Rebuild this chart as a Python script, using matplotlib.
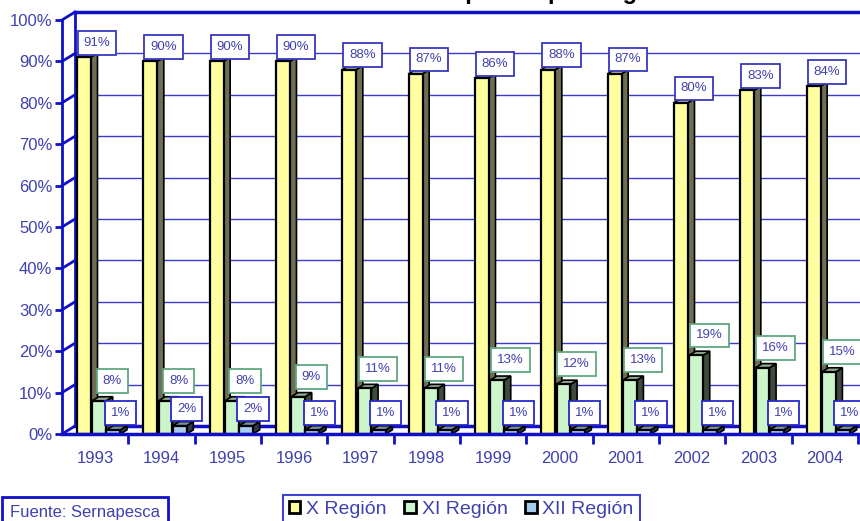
import matplotlib
matplotlib.use("Agg")
import matplotlib.pyplot as plt
from matplotlib.patches import Rectangle, Polygon, Patch

plt.rcParams['font.family'] = ['Liberation Sans', 'DejaVu Sans']

years = ['1993', '1994', '1995', '1996', '1997', '1998',
         '1999', '2000', '2001', '2002', '2003', '2004']
region_x = [91, 90, 90, 90, 88, 87, 86, 88, 87, 80, 83, 84]
region_xi = [8, 8, 8, 9, 11, 11, 13, 12, 13, 19, 16, 15]
region_xii = [1, 2, 2, 1, 1, 1, 1, 1, 1, 1, 1, 1]
series_names = ['X Región', 'XI Región', 'XII Región']

blue = '#1010C8'
grid_blue = '#3A3ACC'
text_blue = '#4040B0'

face_cols = ['#FFFFA0', '#CCF5CC', '#A8CCEE']
side_cols = ['#6E6E52', '#3E4A3E', '#2E3A4A']
top_cols = ['#B8B890', '#90A890', '#7890A8']
label_edges = ['#3838C0', '#60A880', '#2828C8']

fig = plt.figure(figsize=(8.6, 5.21), dpi=100)
ax = fig.add_axes([62 / 860, 87 / 521, 796 / 860, 422 / 521])
ax.set_xlim(0, 12)
ax.set_ylim(0, 422 / 4.14)

# back wall offset (3D look)
wdx, wdy = 0.196, 1.93
for v in range(0, 101, 10):
    lw = 2.5 if v in (0, 100) else 1.0
    c = blue if v in (0, 100) else grid_blue
    ax.plot([wdx, 12.1], [v + wdy, v + wdy], color=c, lw=lw, zorder=1, clip_on=False)
    ax.plot([0, wdx], [v, v + wdy], color=blue, lw=2, zorder=1, clip_on=False)
ax.plot([wdx, wdx], [wdy, 100 + wdy], color=blue, lw=2, zorder=1)

for s in ['top', 'right']:
    ax.spines[s].set_visible(False)
ax.spines['left'].set_bounds(0, 100)
ax.spines['left'].set_color(blue)
ax.spines['left'].set_linewidth(2)
ax.spines['bottom'].set_color(blue)
ax.spines['bottom'].set_linewidth(2.5)
ax.spines['bottom'].set_zorder(6)

ax.set_yticks(range(0, 101, 10))
ax.set_yticklabels([f'{v}%' for v in range(0, 101, 10)])
ax.tick_params(axis='y', colors=blue, labelcolor=text_blue, length=5, width=2,
               labelsize=12, pad=2)

ax.set_xticks([i + 1 for i in range(12)])
ax.set_xticklabels([])
ax.set_xticks([i + 0.5 for i in range(12)], minor=True)
ax.set_xticklabels(years, minor=True)
ax.tick_params(axis='x', which='major', colors=blue, length=7, width=2)
ax.tick_params(axis='x', which='minor', length=0, labelcolor=text_blue,
               labelsize=12, pad=12)

bw = 0.21
offsets = [0.33, 0.56, 0.775]
bdx, bdy = 0.1, 1.0
all_series = [region_x, region_xi, region_xii]
label_dy = [6, 10, 8]
label_dx = [9.5, 9.5, 5]

for i in range(12):
    for k, vals in enumerate(all_series):
        h = vals[i]
        xc = i + offsets[k]
        x0, x1 = xc - bw / 2, xc + bw / 2
        z = 3 + k * 0.1 + i * 0.01
        ax.add_patch(Polygon([(x1, 0), (x1 + bdx, bdy), (x1 + bdx, h + bdy), (x1, h)],
                             closed=True, fc=side_cols[k], ec='black', lw=1.2, zorder=z))
        ax.add_patch(Polygon([(x0, h), (x0 + bdx, h + bdy), (x1 + bdx, h + bdy), (x1, h)],
                             closed=True, fc=top_cols[k], ec='black', lw=1.2, zorder=z))
        ax.add_patch(Rectangle((x0, 0), bw, h, fc=face_cols[k], ec='black', lw=1.6,
                               zorder=z + 0.001))
        ax.annotate(f'{h}%', (xc, h), xytext=(label_dx[k], label_dy[k]),
                    textcoords='offset points', ha='center', va='bottom',
                    fontsize=9.5, color=text_blue, zorder=10,
                    bbox=dict(boxstyle='square,pad=0.45', fc='white',
                              ec=label_edges[k], lw=1.3))

# title (cut off at the top of the picture)
fig.text(0.62, 1.002, 'Participación por Región', ha='center', va='baseline',
         fontsize=17, fontweight='bold', color='black')

handles = [Patch(fc=face_cols[k], ec='black', lw=2) for k in range(3)]
leg = fig.legend(handles, series_names, loc='upper left',
                 bbox_to_anchor=(273 / 860, 1 - 485 / 521), ncol=3, fontsize=14,
                 handlelength=0.6, handleheight=0.6, handletextpad=0.3,
                 columnspacing=0.9, fancybox=False, borderpad=0.3, frameon=True)
leg.get_frame().set_edgecolor(blue)
leg.get_frame().set_linewidth(1.5)
for t in leg.get_texts():
    t.set_color(text_blue)

fig.text(10 / 860, 1 - 513 / 521, 'Fuente: Sernapesca', ha='left', va='center',
         fontsize=12, color=text_blue,
         bbox=dict(boxstyle='square,pad=0.5', fc='white', ec=blue, lw=2))

fig.savefig('out.png', dpi=100)
